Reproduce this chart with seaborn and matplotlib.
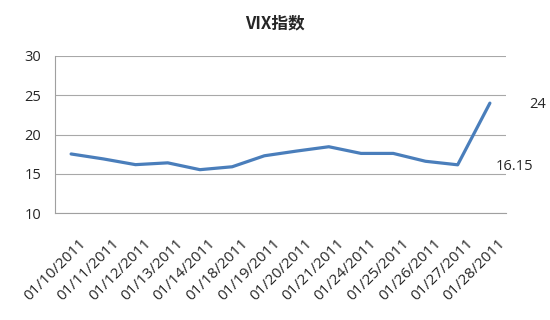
import matplotlib
matplotlib.use("Agg")
import matplotlib.pyplot as plt
import matplotlib.transforms as mtransforms
import seaborn as sns
import pandas as pd

dates = ["01/10/2011", "01/11/2011", "01/12/2011", "01/13/2011", "01/14/2011",
         "01/18/2011", "01/19/2011", "01/20/2011", "01/21/2011", "01/24/2011",
         "01/25/2011", "01/26/2011", "01/27/2011", "01/28/2011"]
vix = [17.53, 16.9, 16.17, 16.4, 15.53, 15.9, 17.3, 17.9, 18.45, 17.6,
       17.6, 16.6, 16.15, 24.0]
yticks = [10, 15, 20, 25, 30]

sns.set_theme(style="white")
plt.rcParams['font.family'] = ['Open Sans', 'Noto Sans CJK SC', 'DejaVu Sans']

df = pd.DataFrame({"date": dates, "vix": vix})
fig = plt.figure(figsize=(5.5, 3.2), dpi=100)
ax = fig.add_axes([0.1, 0.334, 0.82, 0.491])
sns.lineplot(data=df, x="date", y="vix", sort=False, ax=ax,
             color="#4A7EBB", linewidth=2.3)
ax.set_xlim(-0.5, len(dates) - 0.5)
ax.set_ylim(10, 30)
ax.set_yticks(yticks)
ax.set_yticklabels([str(t) for t in yticks], fontsize=10.5)
ax.yaxis.grid(True, color="#A8A8A8", linewidth=0.8)
ax.set_axisbelow(True)
for s in ["top", "right"]:
    ax.spines[s].set_visible(False)
ax.spines["left"].set_color("#A0A0A0")
ax.spines["bottom"].set_color("#A0A0A0")
ax.spines["left"].set_linewidth(0.8)
ax.spines["bottom"].set_linewidth(0.8)
ax.tick_params(axis="y", length=0, pad=10)
ax.tick_params(axis="x", length=0, pad=0)
ax.set_xticks(range(len(dates)))
ax.set_xticklabels(dates, rotation=45, ha="right", va="top",
                   rotation_mode="anchor", fontsize=11)
shift = mtransforms.ScaledTranslation(8 / 100, -23 / 100, fig.dpi_scale_trans)
for lab in ax.get_xticklabels():
    lab.set_transform(lab.get_transform() + shift)
ax.set_xlabel("")
ax.set_ylabel("")

ax.annotate(f"{vix[-1]:g}", (len(dates) - 1, vix[-1]), xytext=(28, -1),
            textcoords="offset points", fontsize=10.5, va="center", ha="left")
ax.annotate(f"{vix[-2]:g}", (len(dates) - 2, vix[-2]), xytext=(27, -1),
            textcoords="offset points", fontsize=10.5, va="center", ha="left")

fig.suptitle("VIX指数", x=0.5, y=0.955, fontsize=12, fontweight="bold",
             family=['Noto Sans CJK SC', 'DejaVu Sans'])
fig.savefig("out.png", dpi=100)
